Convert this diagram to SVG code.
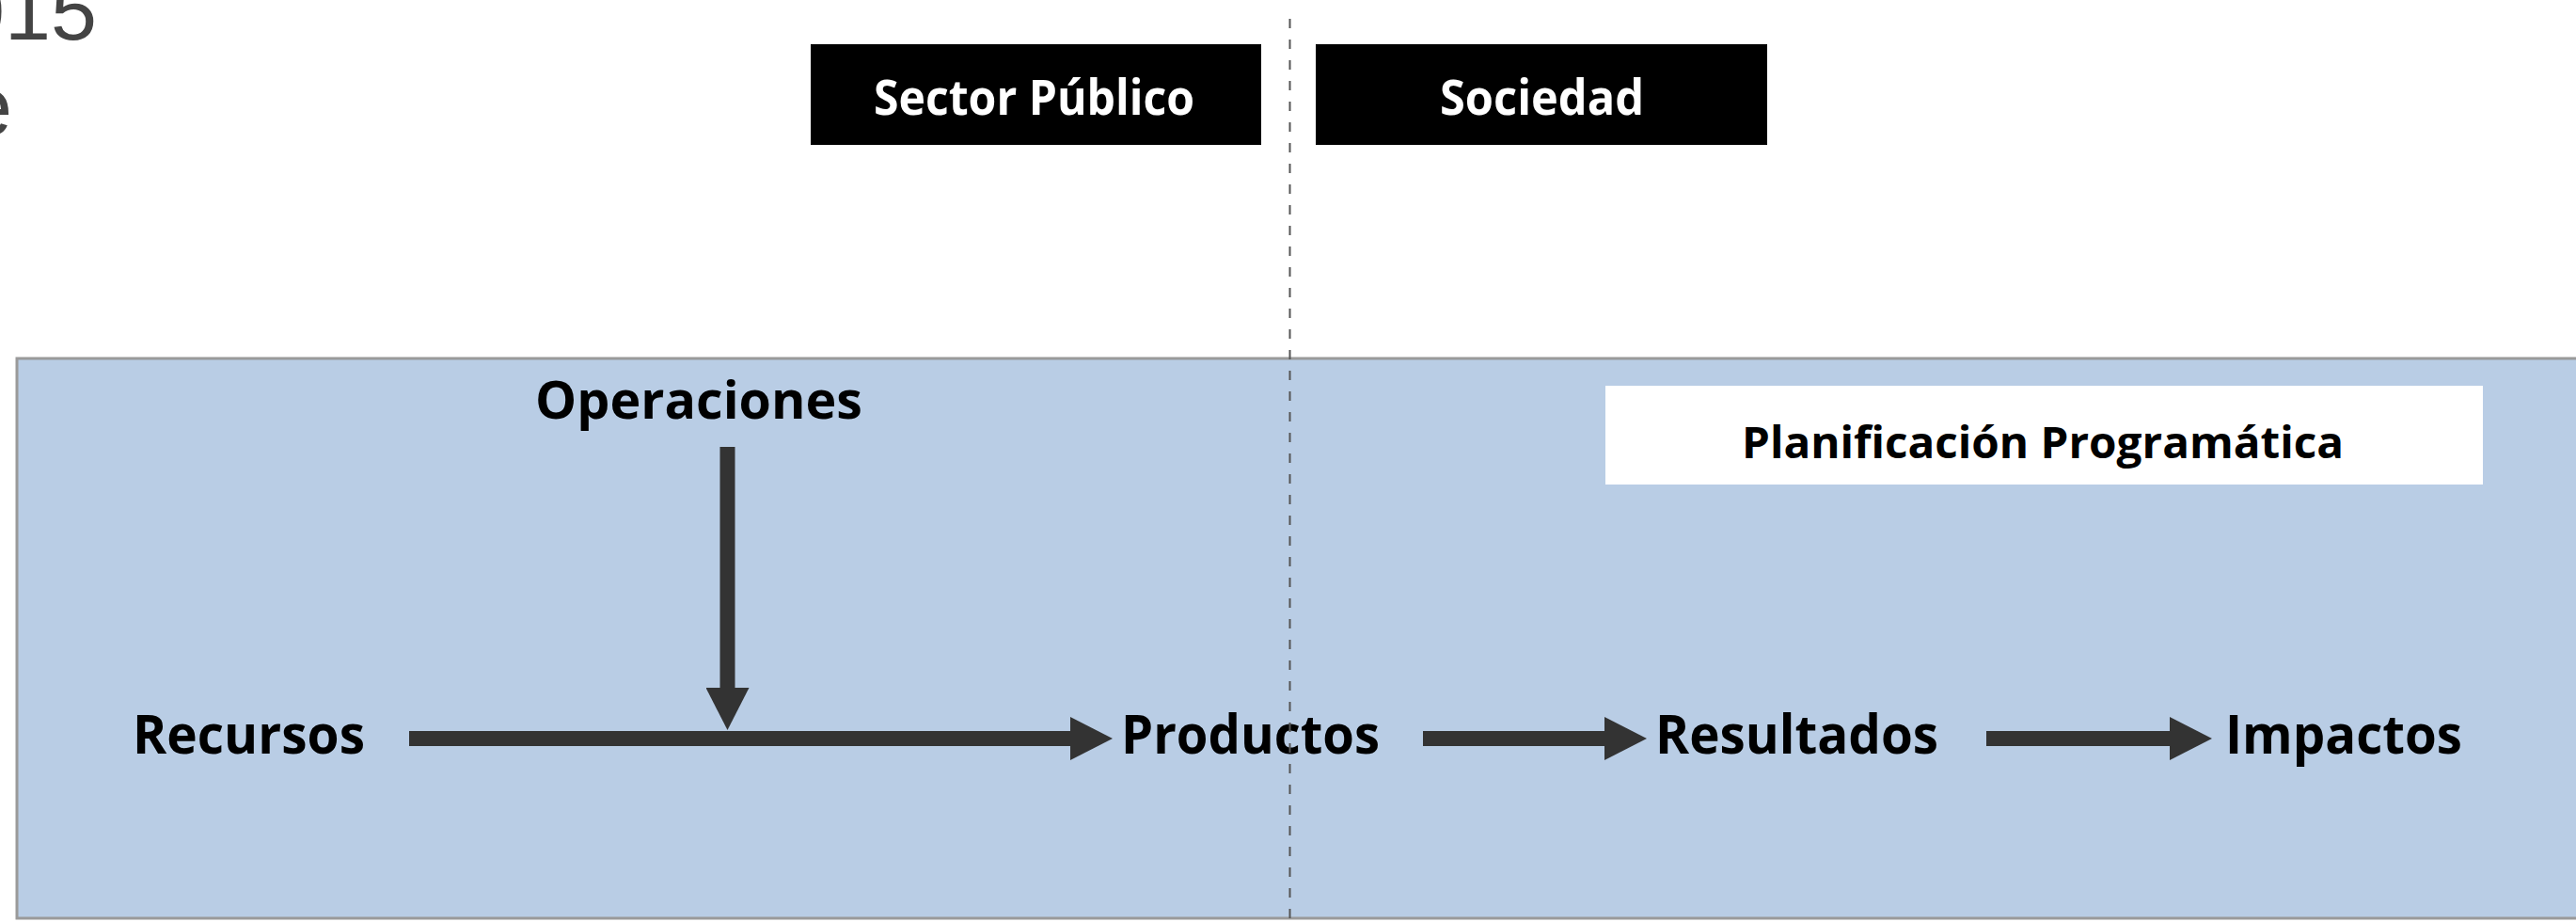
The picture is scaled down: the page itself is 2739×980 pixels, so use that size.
<svg xmlns="http://www.w3.org/2000/svg" width="2739" height="980" viewBox="0 0 2739 980">
  <style>
    .lbl { font-family: "Open Sans", "Liberation Sans", sans-serif; font-weight: bold; fill: #000000; }
    .hdr { font-family: "Open Sans", "Liberation Sans", sans-serif; font-weight: bold; fill: #ffffff; }
    .frag { font-family: "Liberation Sans", Arial, sans-serif; fill: #444444; font-size: 88px; }
    .shaft { stroke: #333333; stroke-width: 16; fill: none; }
  </style>
  <defs>
    <marker id="head" markerUnits="userSpaceOnUse" markerWidth="46" markerHeight="46" refX="0" refY="23" orient="auto" viewBox="0 0 46 46">
      <path d="M0,0 L45,23 L0,46 Z" fill="#333333"/>
    </marker>
  </defs>

  <rect width="2739" height="980" fill="#ffffff"/>

  <!-- cut-off text fragments at top-left -->
  <text class="frag" x="-44" y="42">015</text>
  <text class="frag" x="-36" y="143">e</text>

  <!-- background panel -->
  <g id="panel">
    <rect x="18" y="381" width="2740" height="595" fill="#b9cde5" stroke="#9a9a9a" stroke-width="3"/>
  </g>

  <g id="sector-publico">
    <rect x="862" y="47" width="479" height="107" fill="#000000"/>
    <text class="hdr" x="929" y="122" font-size="52" textLength="341" lengthAdjust="spacingAndGlyphs">Sector Público</text>
  </g>

  <g id="sociedad">
    <rect x="1399" y="47" width="480" height="107" fill="#000000"/>
    <text class="hdr" x="1531" y="122" font-size="52" textLength="217" lengthAdjust="spacingAndGlyphs">Sociedad</text>
  </g>

  <g id="planificacion">
    <rect x="1707" y="410" width="933" height="105" fill="#ffffff"/>
    <text class="lbl" x="1852" y="487" font-size="47" textLength="640" lengthAdjust="spacingAndGlyphs">Planificación Programática</text>
  </g>

  <g id="operaciones">
    <text class="lbl" x="569" y="445" font-size="56" textLength="348" lengthAdjust="spacingAndGlyphs">Operaciones</text>
  </g>

  <g id="recursos">
    <text class="lbl" x="141" y="801" font-size="58" textLength="247" lengthAdjust="spacingAndGlyphs">Recursos</text>
  </g>

  <g id="productos">
    <text class="lbl" x="1192" y="801" font-size="58" textLength="275" lengthAdjust="spacingAndGlyphs">Productos</text>
  </g>

  <g id="resultados">
    <text class="lbl" x="1760" y="801" font-size="58" textLength="301" lengthAdjust="spacingAndGlyphs">Resultados</text>
  </g>

  <g id="impactos">
    <text class="lbl" x="2366" y="801" font-size="58" textLength="252" lengthAdjust="spacingAndGlyphs">Impactos</text>
  </g>

  <g id="connectors">
    <line class="shaft" x1="435" y1="785" x2="1138" y2="785" marker-end="url(#head)"/>
    <line class="shaft" x1="773.5" y1="475" x2="773.5" y2="731" stroke-width="15" marker-end="url(#head)"/>
    <line class="shaft" x1="1513" y1="785" x2="1706" y2="785" marker-end="url(#head)"/>
    <line class="shaft" x1="2112" y1="785" x2="2307" y2="785" marker-end="url(#head)"/>
  </g>

  <!-- divider -->
  <g id="divider">
    <line x1="1371.5" y1="20" x2="1371.5" y2="980" stroke="#555555" stroke-width="2" stroke-dasharray="10 12"/>
  </g>
</svg>
